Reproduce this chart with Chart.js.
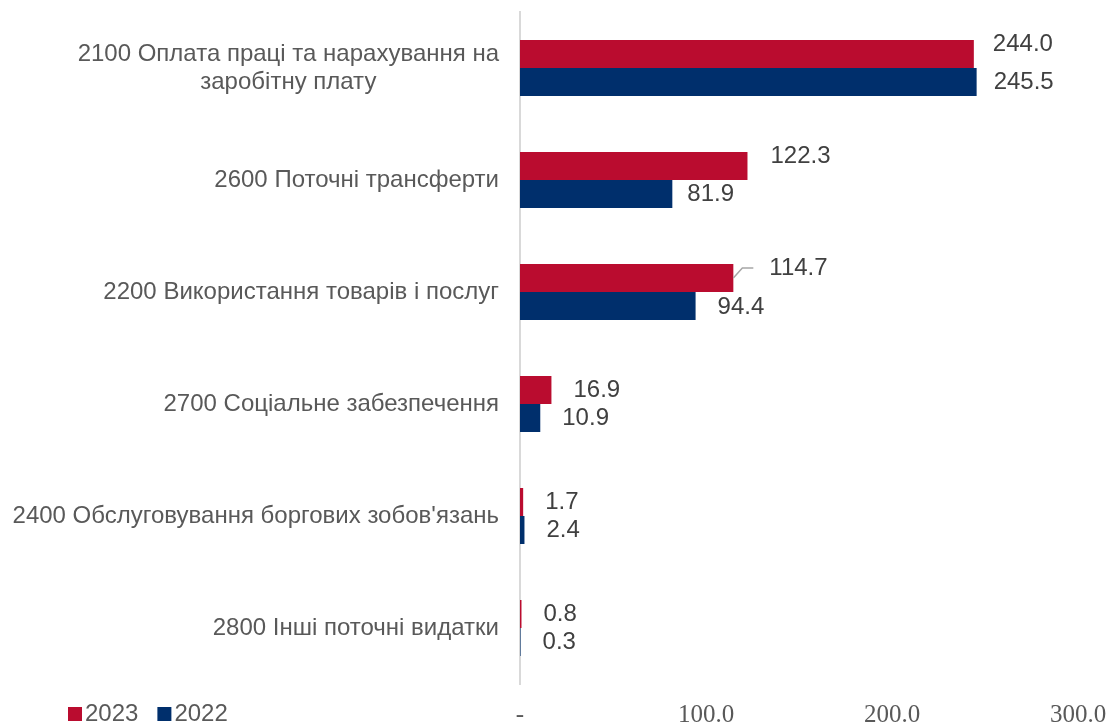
<!DOCTYPE html>
<html lang="uk">
<head>
<meta charset="UTF-8">
<title>Видатки за КЕКВ</title>
<script src="https://cdn.jsdelivr.net/npm/chart.js@4.4.1/dist/chart.umd.min.js"></script>
<style>
  html, body { margin: 0; padding: 0; background: #fff; }
  #wrap { width: 1108px; height: 725px; position: relative; }
</style>
</head>
<body>
<div id="wrap"><canvas id="chart"></canvas></div>
<script>
// categories (multi-line labels are arrays)
const categories = [
  ['2100 Оплата праці та нарахування на', 'заробітну плату'],
  '2600 Поточні трансферти',
  '2200 Використання товарів і послуг',
  '2700 Соціальне забезпечення',
  "2400 Обслуговування боргових зобов'язань",
  '2800 Інші поточні видатки'
];
const seriesNames = ['2023', '2022'];
const values2023 = [244.0, 122.3, 114.7, 16.9, 1.7, 0.8];
const values2022 = [245.5, 81.9, 94.4, 10.9, 2.4, 0.3];
const xTickLabels = ['-', '100.0', '200.0', '300.0'];

const RED = '#BA0C2F';
const NAVY = '#002F6C';
const SANS = '"Liberation Sans", Arial, sans-serif';

// hand-placed value labels ("dataset-index": [dx, dy, leader line])
const LABEL_GAP = 22;
const labelShift = {
  '0-0': [19, -10],
  '1-0': [17, 0],
  '0-1': [23, -10],
  '1-1': [15, 0],
  '0-2': [36, -10, true],
  '1-2': [22, 1]
};

// draws category labels, bar values and the legend
const labelsPlugin = {
  id: 'labels',
  afterDraw(chart) {
    const ctx = chart.ctx;
    const yScale = chart.scales.y;
    ctx.save();
    ctx.textBaseline = 'middle';

    // category labels, right aligned next to the axis, wrapped lines centered
    ctx.font = '24px ' + SANS;
    ctx.fillStyle = '#595959';
    const right = chart.chartArea.left - 21;
    const lineH = 28;
    categories.forEach((cat, i) => {
      const y = yScale.getPixelForValue(i);
      const lines = Array.isArray(cat) ? cat : [cat];
      const widest = Math.max(...lines.map(l => ctx.measureText(l).width));
      const cx = right - widest / 2;
      ctx.textAlign = 'center';
      lines.forEach((l, k) => {
        ctx.fillText(l, cx, y + (k - (lines.length - 1) / 2) * lineH);
      });
    });

    // value labels
    ctx.font = '24px ' + SANS;
    ctx.textAlign = 'left';
    chart.data.datasets.forEach((ds, di) => {
      const meta = chart.getDatasetMeta(di);
      meta.data.forEach((bar, i) => {
        const [dx, dy, leader] = labelShift[di + '-' + i] || [LABEL_GAP, 0];
        const ly = bar.y + dy;
        if (leader) {
          ctx.strokeStyle = '#a6a6a6';
          ctx.lineWidth = 1.5;
          ctx.beginPath();
          ctx.moveTo(bar.x, bar.y);
          ctx.lineTo(bar.x + 9, ly);
          ctx.lineTo(bar.x + 20, ly);
          ctx.stroke();
        }
        ctx.fillStyle = '#404040';
        ctx.fillText(ds.data[i].toFixed(1), bar.x + dx, ly);
      });
    });

    // legend
    ctx.font = '24px ' + SANS;
    let x = 68;
    const ly = 714;
    chart.data.datasets.forEach(ds => {
      ctx.fillStyle = ds.backgroundColor;
      ctx.fillRect(x, ly - 7, 14, 14);
      ctx.fillStyle = '#595959';
      ctx.fillText(ds.label, x + 17, ly);
      x += 17 + ctx.measureText(ds.label).width + 19;
    });

    ctx.restore();
  }
};

new Chart(document.getElementById('chart'), {
  type: 'bar',
  data: {
    labels: categories,
    datasets: [
      { label: seriesNames[0], data: values2023, backgroundColor: RED },
      { label: seriesNames[1], data: values2022, backgroundColor: NAVY }
    ]
  },
  options: {
    indexAxis: 'y',
    responsive: true,
    maintainAspectRatio: false,
    animation: false,
    layout: { padding: { top: 12, right: 30, bottom: 1, left: 0 } },
    categoryPercentage: 0.5,
    barPercentage: 1.0,
    plugins: {
      legend: { display: false },
      tooltip: { enabled: false }
    },
    scales: {
      x: {
        min: 0,
        max: 300,
        grid: { display: false, drawTicks: false },
        border: { display: false },
        ticks: {
          stepSize: 100,
          padding: 16,
          maxRotation: 0,
          color: '#595959',
          font: { family: '"Liberation Serif", "DejaVu Serif", serif', size: 25 },
          callback: (v, i) => xTickLabels[i]
        },
        afterFit: s => {
          s.height = 40;
          s.paddingLeft = 0;
          s.paddingRight = 0;
        }
      },
      y: {
        grid: { display: false, drawTicks: false },
        border: { display: true, color: '#d9d9d9', width: 2 },
        ticks: { display: false },
        afterFit: s => { s.width = 520; }
      }
    }
  },
  plugins: [labelsPlugin]
});
</script>
</body>
</html>
